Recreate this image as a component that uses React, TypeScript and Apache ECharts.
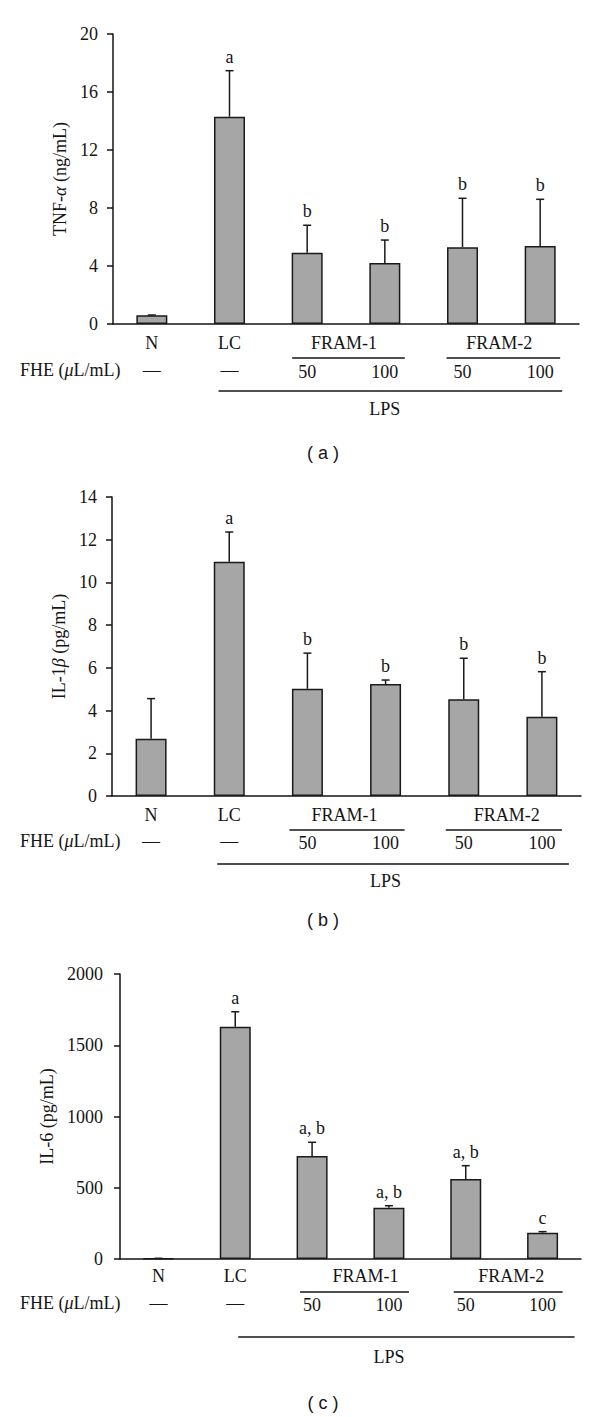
import React, { useEffect, useRef } from "react";
import * as echarts from "echarts";

// ---------- data ----------
const categories = ["N", "LC", "FRAM-1 50", "FRAM-1 100", "FRAM-2 50", "FRAM-2 100"];
const groupNames = ["N", "LC", "FRAM-1", "FRAM-2"];
const doseLabels = ["—", "—", "50", "100", "50", "100"];

const tnfMean = [0.6, 14.3, 4.92, 4.21, 5.29, 5.38];
const tnfUpper = [0.62, 17.47, 6.81, 5.79, 8.67, 8.6];
const tnfLetters = ["", "a", "b", "b", "b", "b"];
const tnfTicks = { min: 0, max: 20, interval: 4 };

const il1Mean = [2.68, 10.97, 5.02, 5.24, 4.53, 3.71];
const il1Upper = [4.56, 12.36, 6.69, 5.43, 6.45, 5.82];
const il1Letters = ["", "a", "b", "b", "b", "b"];
const il1Ticks = { min: 0, max: 14, interval: 2 };

const il6Mean = [5, 1630, 723, 360, 561, 185];
const il6Upper = [5, 1735, 819, 374, 655, 192];
const il6Letters = ["", "a", "a, b", "a, b", "a, b", "c"];
const il6Ticks = { min: 0, max: 2000, interval: 500 };

const yNames = ["TNF-{i|α} (ng/mL)", "IL-1{i|β} (pg/mL)", "IL-6 (pg/mL)"];
const captions = ["( a )", "( b )", "( c )"];

// ---------- layout ----------
const SERIF = '"Liberation Serif", "DejaVu Serif", serif';
const FS = 18;
const INK = "#151515";
const grids = [
  { left: 113, right: 21, top: 34, height: 290 },
  { left: 112, right: 19, top: 497, height: 299 },
  { left: 120, right: 19, top: 974, height: 285 },
];
const nameGaps = [42, 43, 61];
const labelMargins = [15, 15, 17];
const panelLayout = [
  { groupY: 343, lineY: 358, doseY: 372, lpsLineY: 391, lpsY: 409, capY: 453,
    f1: [-15, 20], f2: [-16, 20], lps: [-11, 22], f1Lab: -2, f2Lab: -2 },
  { groupY: 815, lineY: 830, doseY: 843, lpsLineY: 864, lpsY: 881, capY: 920,
    f1: [-18, 19], f2: [-18, 20], lps: [-12, 27], f1Lab: -2, f2Lab: 4 },
  { groupY: 1276, lineY: 1292, doseY: 1305, lpsLineY: 1337, lpsY: 1357, capY: 1403,
    f1: [-12, 20], f2: [-12, 20], lps: [3, 32], f1Lab: 15, f2Lab: 7 },
];

const panels = [
  { mean: tnfMean, upper: tnfUpper, letters: tnfLetters, ticks: tnfTicks },
  { mean: il1Mean, upper: il1Upper, letters: il1Letters, ticks: il1Ticks },
  { mean: il6Mean, upper: il6Upper, letters: il6Letters, ticks: il6Ticks },
];

export default function App() {
  const ref = useRef<HTMLDivElement>(null);
  useEffect(() => {
    if (!ref.current) return;
    const chart = echarts.init(ref.current, null, { renderer: "svg" });

    const xAxis = panels.map((_, k) => ({
      type: "category",
      gridIndex: k,
      data: categories,
      boundaryGap: true,
      axisLine: { lineStyle: { color: INK, width: 1.5 } },
      axisTick: { show: false },
      axisLabel: { show: false },
      splitLine: { show: false },
    }));
    const yAxis = panels.map((p, k) => ({
      type: "value",
      gridIndex: k,
      min: p.ticks.min,
      max: p.ticks.max,
      interval: p.ticks.interval,
      name: yNames[k],
      nameLocation: "middle",
      nameGap: nameGaps[k],
      nameTextStyle: {
        fontFamily: SERIF, fontSize: FS, color: INK,
        rich: { i: { fontFamily: SERIF, fontSize: FS, fontStyle: "italic", color: INK } },
      },
      axisLine: { show: true, lineStyle: { color: INK, width: 1.5 } },
      axisTick: { show: true, length: 6, lineStyle: { color: INK, width: 1.5 } },
      axisLabel: {
        fontFamily: SERIF, fontSize: FS, color: INK, margin: labelMargins[k],
        formatter: (v: number) => String(v),
      },
      splitLine: { show: false },
    }));

    const series: any[] = [];
    panels.forEach((p, k) => {
      series.push({
        type: "bar",
        xAxisIndex: k,
        yAxisIndex: k,
        data: p.mean,
        barWidth: 31,
        itemStyle: { color: "#a6a6a6", borderColor: "#1a1a1a", borderWidth: 1.5 },
        silent: true,
        z: 2,
      });
      series.push({
        type: "custom",
        xAxisIndex: k,
        yAxisIndex: k,
        z: 3,
        silent: true,
        data: p.mean.map((m, i) => [i, m, p.upper[i]]),
        renderItem: (params: any, api: any) => {
          const i = api.value(0);
          const p0 = api.coord([i, api.value(1)]);
          const p1 = api.coord([i, api.value(2)]);
          const st = { stroke: "#1a1a1a", lineWidth: 1.5 };
          return {
            type: "group",
            children: [
              { type: "line", shape: { x1: p0[0], y1: p0[1], x2: p1[0], y2: p1[1] }, style: st },
              { type: "line", shape: { x1: p1[0] - 4, y1: p1[1], x2: p1[0] + 4, y2: p1[1] }, style: st },
              {
                type: "text",
                x: p1[0],
                y: p1[1] - 14,
                style: {
                  text: p.letters[params.dataIndex],
                  fill: INK,
                  font: `${FS}px ${SERIF}`,
                  align: "center",
                  verticalAlign: "middle",
                },
              },
            ],
          };
        },
      });
    });

    chart.setOption({
      animation: false,
      grid: grids,
      xAxis,
      yAxis,
      series,
    });

    // bottom annotation rows, placed at the category centres from the axes
    const graphic: any[] = [];
    const txt = (text: string, x: number, y: number, opts: any = {}) => ({
      type: "text",
      x, y,
      style: {
        text, fill: INK, font: `${FS}px ${SERIF}`,
        align: opts.align || "center", verticalAlign: "middle",
        rich: { i: { fontStyle: "italic", fontSize: FS, fontFamily: SERIF, fill: INK } },
      },
    });
    const ln = (x1: number, x2: number, y: number) => ({
      type: "line",
      shape: { x1, y1: y, x2, y2: y },
      style: { stroke: INK, lineWidth: 1.5 },
    });
    panels.forEach((_, k) => {
      const L = panelLayout[k];
      const cx = categories.map((_, i) => chart.convertToPixel({ xAxisIndex: k } as any, i) as number);
      graphic.push(txt(groupNames[0], cx[0], L.groupY));
      graphic.push(txt(groupNames[1], cx[1], L.groupY));
      graphic.push(txt(groupNames[2], (cx[2] + cx[3]) / 2 + L.f1Lab, L.groupY));
      graphic.push(txt(groupNames[3], (cx[4] + cx[5]) / 2 + L.f2Lab, L.groupY));
      graphic.push(ln(cx[2] + L.f1[0], cx[3] + L.f1[1], L.lineY));
      graphic.push(ln(cx[4] + L.f2[0], cx[5] + L.f2[1], L.lineY));
      graphic.push(txt("FHE ({i|μ}L/mL)", 20, L.doseY - 2, { align: "left" }));
      doseLabels.forEach((d, i) => graphic.push(txt(d, cx[i], i < 2 ? L.doseY - 2 : L.doseY)));
      graphic.push(ln(cx[1] + L.lps[0], cx[5] + L.lps[1], L.lpsLineY));
      graphic.push(txt("LPS", cx[3], L.lpsY));
      graphic.push({
        type: "text",
        x: 323,
        y: L.capY,
        style: {
          text: captions[k], fill: INK, font: '18px "Liberation Sans", Arial, sans-serif',
          align: "center", verticalAlign: "middle",
        },
      });
    });
    chart.setOption({ graphic });

    return () => chart.dispose();
  }, []);
  return (
    <div
      ref={ref}
      style={{ position: "absolute", left: 0, top: 0, width: 600, height: 1417, background: "#fff" }}
    />
  );
}
